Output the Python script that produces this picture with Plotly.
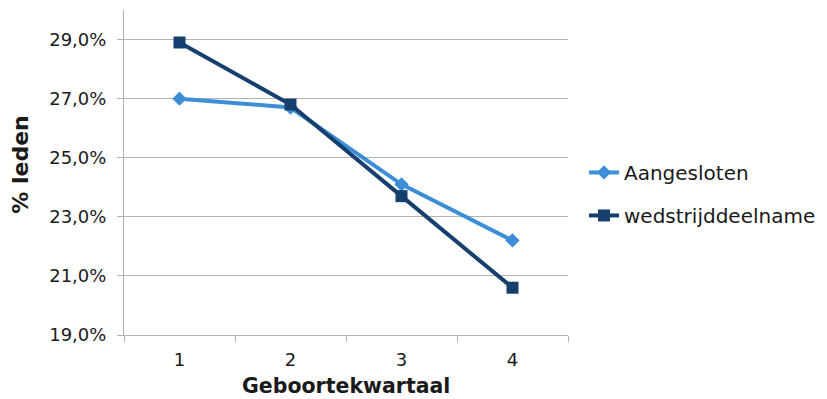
import plotly.graph_objects as go

# Share of members per birth quarter
kwartalen = ["1", "2", "3", "4"]
aangesloten = [27.0, 26.7, 24.1, 22.2]
wedstrijddeelname = [28.9, 26.8, 23.7, 20.6]

font_family = "DejaVu Sans, Verdana, sans-serif"
grid_color = "#b3b3b3"

fig = go.Figure()
fig.add_trace(go.Scatter(
    x=kwartalen, y=aangesloten, name="Aangesloten",
    mode="lines+markers", legendgroup="a",
    line=dict(color="#3c8fd6", width=4),
    marker=dict(symbol="diamond", size=11, color="#3c8fd6"),
))
fig.add_trace(go.Scatter(
    x=kwartalen, y=wedstrijddeelname, name="wedstrijddeelname",
    mode="lines+markers", legendgroup="b",
    line=dict(color="#173f6e", width=4),
    marker=dict(symbol="square", size=12, color="#173f6e"),
))

fig.update_layout(
    width=827, height=399,
    margin=dict(l=124, r=259, t=10, b=64, autoexpand=False),
    paper_bgcolor="white", plot_bgcolor="white",
    font=dict(family=font_family, size=18, color="#1a1a1a"),
    separators=",.",
    showlegend=True,
    legend=dict(
        x=1.036, xanchor="left", y=0.434, yanchor="middle",
        font=dict(size=20, color="#1a1a1a"),
        traceorder="grouped", tracegroupgap=14,
        bgcolor="rgba(0,0,0,0)",
    ),
    xaxis=dict(
        type="category", range=[-0.5, 3.5],
        showgrid=False, showline=True, linecolor=grid_color, linewidth=1,
        ticks="outside", tickson="boundaries", ticklen=6, tickcolor=grid_color,
        tickfont=dict(size=18), ticklabelstandoff=8,
        zeroline=False,
    ),
    yaxis=dict(
        range=[19, 30], tick0=19, dtick=2,
        tickformat=".1f", ticksuffix="%",
        showgrid=True, gridcolor=grid_color, gridwidth=1,
        showline=True, linecolor=grid_color, linewidth=1,
        ticks="outside", ticklen=6, tickcolor=grid_color,
        tickfont=dict(size=18), ticklabelstandoff=7,
        zeroline=False,
    ),
    annotations=[
        dict(text="<b>Geboortekwartaal</b>", xref="paper", yref="paper",
             x=0.5, y=-0.158, xanchor="center", yanchor="middle",
             showarrow=False, font=dict(size=20.5)),
        dict(text="<b>% leden</b>", xref="paper", yref="paper",
             x=-0.232, y=0.527, xanchor="center", yanchor="middle",
             textangle=-90, showarrow=False, font=dict(size=22)),
    ],
)

fig.write_html("out.html")
